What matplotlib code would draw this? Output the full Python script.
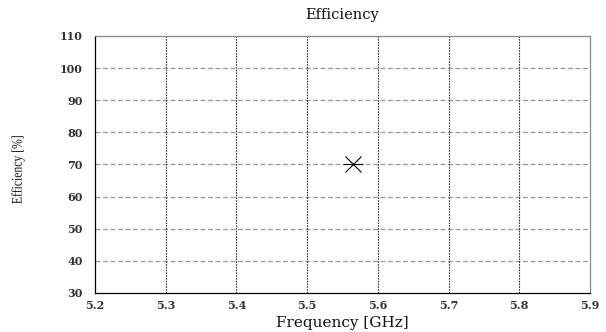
import matplotlib
matplotlib.use("Agg")
import matplotlib.pyplot as plt
from matplotlib.textpath import TextPath
from matplotlib.patches import PathPatch
from matplotlib.font_manager import FontProperties
from matplotlib.transforms import Affine2D, IdentityTransform

freq_ghz = [5.565]
efficiency = [70]
x_ticks = [5.2, 5.3, 5.4, 5.5, 5.6, 5.7, 5.8, 5.9]
y_ticks = [30, 40, 50, 60, 70, 80, 90, 100, 110]

plt.rcParams['font.family'] = ['DejaVu Serif']

fig = plt.figure(figsize=(6.06, 3.32), dpi=100)
ax = fig.add_axes([0.1568, 0.1175, 0.8168, 0.7741])

# asterisk-like point: an x plus a horizontal bar
ax.plot(freq_ghz, efficiency, linestyle='none', marker='x',
        markersize=12, markeredgecolor='black', markeredgewidth=0.8)
ax.plot(freq_ghz, efficiency, linestyle='none', marker='_',
        markersize=15, markeredgecolor='black', markeredgewidth=0.8)

ax.set_xlim(5.2, 5.9)
ax.set_ylim(30, 110)
ax.set_xticks(x_ticks)
ax.set_yticks(y_ticks)
ax.set_xticklabels([f"{v:.1f}" for v in x_ticks], fontsize=8, fontweight='bold', color='#333333')
ax.set_yticklabels([str(v) for v in y_ticks], fontsize=8, fontweight='bold', color='#333333')
ax.tick_params(axis='y', length=0, pad=9)
ax.tick_params(axis='x', length=0, pad=5)

# horizontal grey dashed, vertical black dotted
for y in y_ticks[1:-1]:
    ax.axhline(y, color='#999999', linewidth=0.9, dashes=(4, 2), zorder=0)
for x in x_ticks[1:-1]:
    ax.axvline(x, color='#333333', linewidth=0.8, dashes=(1.5, 1), zorder=0)

ax.spines['left'].set_color('black')
ax.spines['bottom'].set_color('black')
ax.spines['top'].set_color('#888888')
ax.spines['right'].set_color('#888888')
for s in ax.spines.values():
    s.set_linewidth(0.9)

cx = 0.5 * (0.1568 + 0.9736)
fig.text(cx, 1 - 15 / 332, 'Efficiency', ha='center', va='center', fontsize=10.5, color='#111111')
fig.text(cx, 1 - 323 / 332, 'Frequency [GHz]', ha='center', va='center', fontsize=11, color='#111111')

# condensed serif y label drawn as a path
fp = FontProperties(family='Liberation Serif', size=10.5)
tp = TextPath((0, 0), 'Efficiency [%]', prop=fp)
bb = tp.get_extents()
px = fig.dpi / 72.0
trans = (Affine2D()
         .translate(-(bb.x0 + bb.x1) / 2, -(bb.y0 + bb.y1) / 2)
         .scale(0.8 * px, px)
         .rotate_deg(90)
         .translate(18, 332 - 170))
fig.add_artist(PathPatch(trans.transform_path(tp), facecolor='#111111', edgecolor='none',
                         transform=IdentityTransform()))

fig.savefig('out.png', dpi=100)
